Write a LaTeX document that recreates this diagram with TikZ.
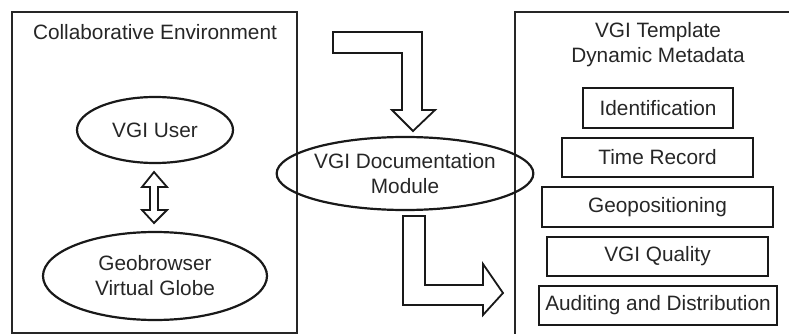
\documentclass[tikz,border=0pt]{standalone}
\usepackage{fontspec}
\setmainfont{Liberation Sans}
\usetikzlibrary{shapes.geometric}
\begin{document}
\begin{tikzpicture}[x=1pt,y=-1pt,
  frame/.style={draw=black!85, line width=2.4pt},
  oval/.style={ellipse, draw=black!90, line width=2.2pt, inner sep=0pt, align=center},
  item/.style={draw=black!90, line width=2.4pt, inner sep=0pt, align=center},
  blockarrow/.style={draw=black!90, line width=1.8pt, fill=white, line join=miter},
  every node/.style={font=\fontsize{20.8}{25}\selectfont, text=black!85}]
  \useasboundingbox (0,0) rectangle (789,334);
  \clip (0,0) rectangle (789,334);

  % outer panels
  \draw[frame] (12,12) rectangle (297,333);
  \draw[frame] (515,12) rectangle (800,345);

  % left panel: collaborative environment
  \node (envtitle) at (155,32) {Collaborative Environment};
  \node[oval, minimum width=156pt, minimum height=66pt] (user) at (155,130) {VGI User};
  \node[oval, minimum width=224pt, minimum height=88pt] (geo) at (155,276) {Geobrowser\\Virtual Globe};

  % two-way link between user and geobrowser
  \draw[blockarrow] (154,172) -- (167,187) -- (158,187) -- (158,210) -- (167,210)
    -- (154,223) -- (142,210) -- (150,210) -- (150,187) -- (142,187) -- cycle;

  % middle: documentation module
  \node[oval, minimum width=204pt, minimum height=73pt] (module) at (405,173.5) {VGI Documentation\\Module};

  % L-shaped flow arrows
  \draw[blockarrow] (333,32) -- (422,32) -- (422,110) -- (435,110) -- (413,131)
    -- (392,110) -- (402,110) -- (402,53) -- (333,53) -- cycle;
  \draw[blockarrow] (403,216) -- (425,216) -- (425,285) -- (483,285) -- (483,264)
    -- (503,293) -- (483,315) -- (483,305) -- (403,305) -- cycle;

  % right panel: template metadata
  \node[align=center] (tpltitle) at (658,45) {VGI Template\\Dynamic Metadata};
  \node[item, minimum width=150pt, minimum height=40pt] (ident) at (658,108) {Identification};
  \node[item, minimum width=191pt, minimum height=39pt] (time) at (657.5,157.5) {Time Record};
  \node[item, minimum width=231pt, minimum height=40pt] (geopos) at (657.5,207) {Geopositioning};
  \node[item, minimum width=221pt, minimum height=39pt] (quality) at (657.5,256.5) {VGI Quality};
  \node[item, minimum width=238pt, minimum height=39pt] (audit) at (658,305.5) {Auditing and Distribution};
\end{tikzpicture}
\end{document}
